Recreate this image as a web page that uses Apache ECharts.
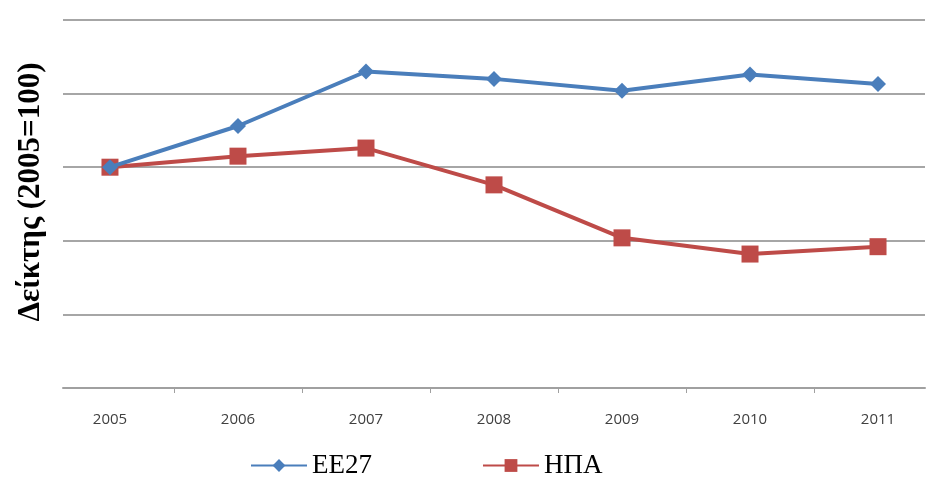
<!DOCTYPE html>
<html>
<head>
<meta charset="utf-8">
<script src="https://cdn.jsdelivr.net/npm/echarts@6/dist/echarts.min.js"></script>
<style>html,body{margin:0;padding:0;background:#fff;}#c{width:929px;height:477px;}</style>
</head>
<body>
<div id="c"></div>
<script>
const years = ['2005','2006','2007','2008','2009','2010','2011'];
const ee27 = [100, 105.6, 113.0, 112.0, 110.4, 112.6, 111.3];
const hpa = [100, 101.5, 102.6, 97.6, 90.4, 88.2, 89.2];
const seriesNames = ['EE27', 'ΗΠΑ'];

const chart = echarts.init(document.getElementById('c'));
const idx = years.map((_, i) => i);
const mids = years.slice(1).map((_, i) => i + 0.5);
chart.setOption({
  animation: false,
  grid: {left: 63, right: 4, top: 20, bottom: 89},
  legend: {
    bottom: -7, left: 245, itemGap: 110, itemWidth: 56, itemHeight: 16,
    textStyle: {fontFamily: 'Liberation Serif', fontSize: 27, color: '#000'},
    data: seriesNames
  },
  xAxis: {
    type: 'value', min: -0.367, max: 6.367,
    axisLine: {show: true, lineStyle: {color: '#a0a0a0', width: 2}},
    axisTick: {show: true, customValues: mids, length: 5, lineStyle: {color: '#a0a0a0'}},
    axisLabel: {customValues: idx, formatter: v => years[Math.round(v)], margin: 24,
      fontFamily: 'Open Sans', fontSize: 15, color: '#404040'},
    splitLine: {show: false}
  },
  yAxis: {
    type: 'value', min: 70, max: 120, interval: 10,
    axisLine: {show: false}, axisTick: {show: false}, axisLabel: {show: false},
    splitLine: {lineStyle: {color: '#a6a6a6', width: 2}},
    name: 'Δείκτης (2005=100)', nameLocation: 'middle', nameGap: 17,
    nameTextStyle: {fontFamily: 'Liberation Serif', fontSize: 31, fontWeight: 'bold', color: '#000', padding: [0, 0, 0, 24]}
  },
  series: [
    {name: seriesNames[0], type: 'line', data: ee27.map((v, i) => [i, v]),
     symbol: 'diamond', symbolSize: 16, z: 3,
     lineStyle: {color: '#4a7ebb', width: 4}, itemStyle: {color: '#4a7ebb'}},
    {name: seriesNames[1], type: 'line', data: hpa.map((v, i) => [i, v]),
     symbol: 'rect', symbolSize: 17, z: 2,
     lineStyle: {color: '#be4b48', width: 4}, itemStyle: {color: '#be4b48'}}
  ]
});
</script>
</body>
</html>
